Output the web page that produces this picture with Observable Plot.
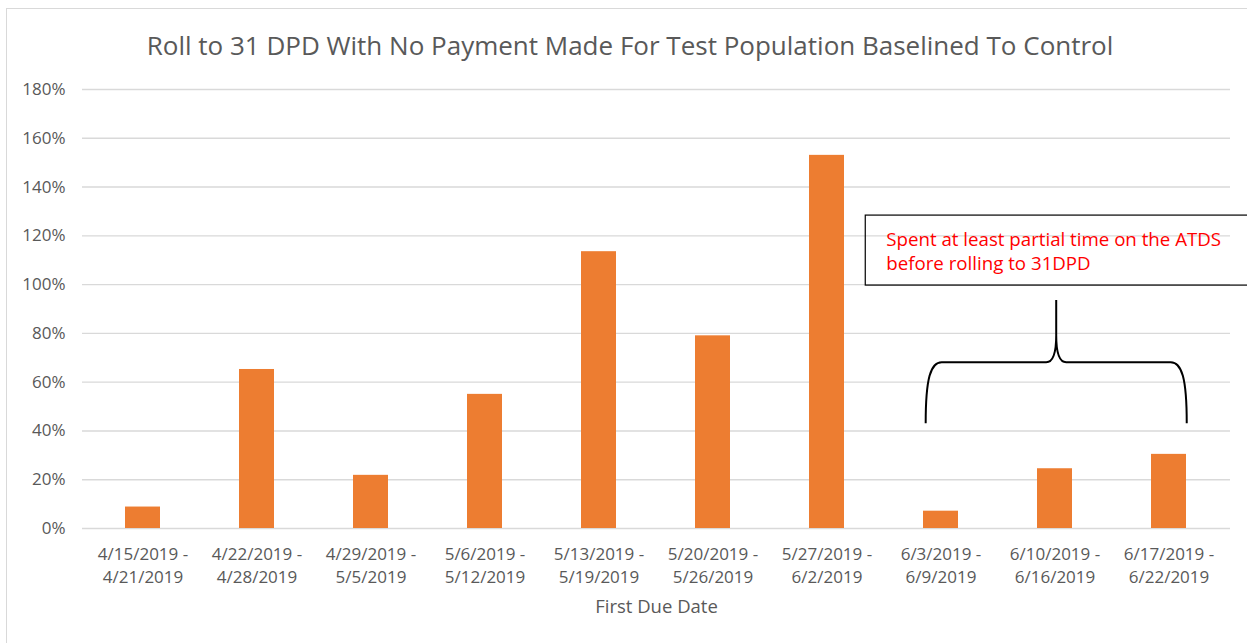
<!DOCTYPE html>
<html>
<head>
<meta charset="utf-8">
<script src="https://cdn.jsdelivr.net/npm/d3@7"></script>
<script src="https://cdn.jsdelivr.net/npm/@observablehq/plot@0.6"></script>
<style>
  body { margin: 0; background: #fff; }
  #wrap { position: relative; width: 1247px; height: 643px; overflow: hidden; font-family: "Open Sans", sans-serif; background: #fff; }
  #frameL { position: absolute; left: 6px; top: 8px; width: 1px; height: 640px; background: #d9d9d9; }
  #frameT { position: absolute; left: 6px; top: 8px; width: 1250px; height: 1px; background: #d9d9d9; }
  #title { position: absolute; left: 13px; top: 0; width: 1234px; height: 68px; text-align: center; color: #595959; font-size: 26px; line-height: 30px; padding-top: 30px; box-sizing: border-box; white-space: nowrap; }
  #chart { position: absolute; left: 0; top: 68px; }
</style>
</head>
<body>
<div id="wrap">
  <div id="frameL"></div>
  <div id="frameT"></div>
  <div id="title"></div>
  <div id="chart"></div>
</div>
<script>
const titleText = "Roll to 31 DPD With No Payment Made For Test Population Baselined To Control";
const xAxisLabel = "First Due Date";
const weekStarts = ["4/15/2019", "4/22/2019", "4/29/2019", "5/6/2019", "5/13/2019", "5/20/2019", "5/27/2019", "6/3/2019", "6/10/2019", "6/17/2019"];
const weekEnds   = ["4/21/2019", "4/28/2019", "5/5/2019", "5/12/2019", "5/19/2019", "5/26/2019", "6/2/2019", "6/9/2019", "6/16/2019", "6/22/2019"];
const rollRates  = [0.088, 0.652, 0.218, 0.55, 1.135, 0.79, 1.53, 0.071, 0.245, 0.304];
const yTicks = [0, 0.2, 0.4, 0.6, 0.8, 1.0, 1.2, 1.4, 1.6, 1.8];
const noteLines = ["Spent at least partial time on the ATDS", "before rolling to 31DPD"];
// brace spans the weeks from braceFirst to braceLast (indices into the week lists)
const braceFirst = 7;
const braceLast = 9;

document.getElementById("title").textContent = titleText;

const weeks = weekStarts.map((s, i) => `${s} -\n${weekEnds[i]}`);
const data = weeks.map((w, i) => ({week: w, rate: rollRates[i]}));

function annotation(index, scales, values, dims) {
  const x = scales.x, y = scales.y;
  const bw = x.bandwidth();
  const step = x.step();
  const c = i => x(weeks[i]) + bw / 2;
  const xL = c(braceFirst) - 0.13 * step;
  const xR = c(braceLast) + 0.16 * step;
  const xM = (xL + xR) / 2;
  const yB = y(0.43), yH = y(0.68), yT = y(0.935);
  const g = d3.create("svg:g");
  const boxL = c(braceFirst - 1) + 0.34 * step;
  const boxT = y(1.283), boxB = y(0.996);
  g.append("rect")
    .attr("x", boxL).attr("y", boxT)
    .attr("width", dims.width - boxL + 20).attr("height", boxB - boxT)
    .attr("fill", "none").attr("stroke", "#000").attr("stroke-width", 1.2);
  const t = g.append("text")
    .attr("fill", "#ff0000").attr("font-size", 18.7).attr("font-family", "Open Sans, sans-serif")
    .attr("text-anchor", "start");
  noteLines.forEach((line, i) => {
    t.append("tspan").attr("x", boxL + 21).attr("y", boxT + 26 + i * 24).attr("dominant-baseline", "middle").text(line);
  });
  const p = `M${xL},${yB} C${xL},${yH + 16} ${xL + 5},${yH} ${xL + 16},${yH} L${xM - 10},${yH} C${xM - 2},${yH} ${xM},${yH - 12} ${xM},${yH - 27} L${xM},${yT} ` +
            `M${xM},${yT} L${xM},${yH - 27} C${xM},${yH - 12} ${xM + 2},${yH} ${xM + 10},${yH} L${xR - 16},${yH} C${xR - 5},${yH} ${xR},${yH + 16} ${xR},${yB}`;
  g.append("path").attr("d", p).attr("fill", "none").attr("stroke", "#000").attr("stroke-width", 2);
  return g.node();
}

const chart = Plot.plot({
  width: 1247,
  height: 575,
  marginTop: 21,
  marginBottom: 115,
  marginLeft: 82,
  marginRight: 17,
  style: {fontFamily: "Open Sans, sans-serif", background: "transparent", color: "#595959"},
  x: {domain: weeks, paddingInner: 0.69, paddingOuter: 0.345, label: null},
  y: {domain: [0, 1.8], label: null},
  marks: [
    Plot.ruleY(yTicks, {stroke: "#d9d9d9", strokeWidth: 1.4}),
    Plot.barY(data, {x: "week", y: "rate", fill: "#ED7D31"}),
    Plot.axisY(yTicks, {tickSize: 0, tickPadding: 17, tickFormat: d => Math.round(d * 100) + "%", fill: "#595959", fontSize: 17, label: null}),
    Plot.axisX({tickSize: 0, tickPadding: 14, lineHeight: 1.41, fill: "#595959", fontSize: 17, label: null}),
    Plot.text([xAxisLabel], {text: d => d, frameAnchor: "bottom", dy: 84, fill: "#595959", fontSize: 18.5}),
    annotation
  ]
});
document.getElementById("chart").appendChild(chart);
</script>
</body>
</html>
